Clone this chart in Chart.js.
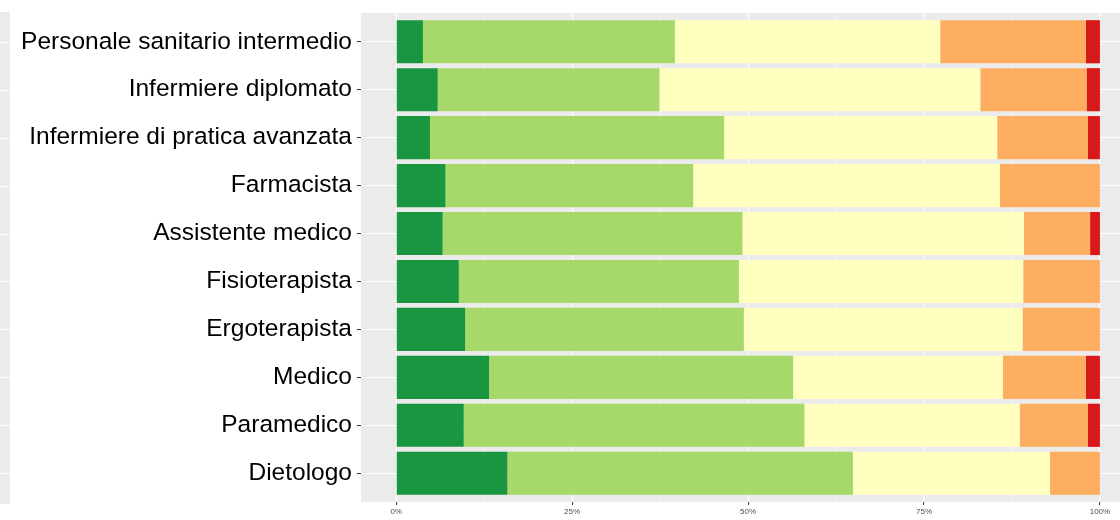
<!DOCTYPE html>
<html>
<head>
<meta charset="utf-8">
<script src="https://cdn.jsdelivr.net/npm/chart.js@4/dist/chart.umd.min.js"></script>
<style>
  html, body { margin: 0; padding: 0; background: #fff; }
  #wrap { width: 1120px; height: 520px; }
</style>
</head>
<body>
<div id="wrap"><canvas id="chart" width="1120" height="520"></canvas></div>
<script>
// ===== Categorie (dall'alto verso il basso) =====
const categories = [
    "Personale sanitario intermedio",
    "Infermiere diplomato",
    "Infermiere di pratica avanzata",
    "Farmacista",
    "Assistente medico",
    "Fisioterapista",
    "Ergoterapista",
    "Medico",
    "Paramedico",
    "Dietologo"
];

// ===== Quote per livello (%) =====
const level1 = [3.8, 5.9, 4.8, 7.0, 6.6, 8.9, 9.8, 13.2, 9.6, 15.8];
const level2 = [35.8, 31.5, 41.8, 35.2, 42.6, 39.8, 39.6, 43.2, 48.4, 49.1];
const level3 = [37.7, 45.6, 38.8, 43.6, 40.0, 40.4, 39.6, 29.8, 30.6, 28.0];
const level4 = [20.7, 15.1, 12.9, 14.2, 9.4, 10.9, 11.0, 11.8, 9.7, 7.1];
const level5 = [2.0, 1.9, 1.7, 0, 1.4, 0, 0, 2.0, 1.7, 0];

// ===== Tick asse x =====
const majorTicks = [0, 25, 50, 75, 100];
const minorTicks = [12.5, 37.5, 62.5, 87.5];

const levels = [level1, level2, level3, level4, level5];
const colors = ['#1A9641', '#A6D96A', '#FFFFBF', '#FDAE61', '#D7191C'];

const datasets = levels.map((vals, k) => ({
    label: 'Livello ' + (k + 1),
    data: vals.map((v, i) => ({ x: v, y: i })),
    backgroundColor: colors[k],
    borderWidth: 0,
    barPercentage: 0.9,
    categoryPercentage: 1
}));

// ===== Sfondo pannello grigio =====
const panelBg = {
    id: 'panelBg',
    beforeDraw(chart) {
        const { ctx, chartArea: a, scales } = chart;
        ctx.save();
        ctx.fillStyle = '#EBEBEB';
        ctx.fillRect(a.left, a.top, a.right - a.left, a.bottom - a.top);
        // striscia a sinistra
        ctx.fillRect(0, a.top - 1, 10, a.bottom - a.top + 3);
        ctx.strokeStyle = '#FFFFFF';
        ctx.lineWidth = 1;
        categories.forEach((c, i) => {
            const y = Math.round(scales.y.getPixelForValue(i)) + 0.5;
            ctx.beginPath();
            ctx.moveTo(0, y);
            ctx.lineTo(10, y);
            ctx.stroke();
        });
        ctx.restore();
    }
};

new Chart(document.getElementById('chart'), {
    type: 'bar',
    data: { datasets },
    plugins: [panelBg],
    options: {
        indexAxis: 'y',
        responsive: false,
        animation: false,
        layout: { padding: { top: 13, right: 0, bottom: 0, left: 0 } },
        plugins: {
            legend: { display: false },
            tooltip: { enabled: false }
        },
        scales: {
            x: {
                type: 'linear',
                stacked: true,
                min: -5,
                max: 102.85,
                border: { display: false },
                afterBuildTicks: s => {
                    s.ticks = [...majorTicks, ...minorTicks].sort((a, b) => a - b).map(v => ({ value: v }));
                },
                afterFit: s => { s.height = 18; s.paddingLeft = 0; s.paddingRight = 0; },
                grid: {
                    color: '#FFFFFF',
                    lineWidth: c => (majorTicks.includes(c.tick.value) ? 1.1 : 0.55),
                    tickColor: c => (majorTicks.includes(c.tick.value) ? '#333333' : 'rgba(0,0,0,0)'),
                    tickLength: 3,
                    tickWidth: 1
                },
                ticks: {
                    autoSkip: false,
                    maxRotation: 0,
                    padding: 2,
                    color: '#4D4D4D',
                    font: { family: 'Liberation Sans, Arial, sans-serif', size: 8 },
                    callback: v => (majorTicks.includes(v) ? v + '%' : '')
                }
            },
            y: {
                type: 'linear',
                stacked: true,
                reverse: true,
                offset: false,
                min: -0.6,
                max: 9.6,
                border: { display: false },
                afterBuildTicks: s => {
                    s.ticks = categories.map((c, i) => ({ value: i }));
                },
                afterFit: s => { s.width = 361; s.paddingTop = 0; s.paddingBottom = 0; },
                grid: {
                    offset: false,
                    color: '#FFFFFF',
                    lineWidth: 1.1,
                    tickColor: '#333333',
                    tickLength: 4,
                    tickWidth: 1
                },
                ticks: {
                    autoSkip: false,
                    padding: 5,
                    color: '#000000',
                    font: { family: 'Liberation Sans, Arial, sans-serif', size: 24.5 },
                    callback: v => categories[v]
                }
            }
        }
    }
});
</script>
</body>
</html>
